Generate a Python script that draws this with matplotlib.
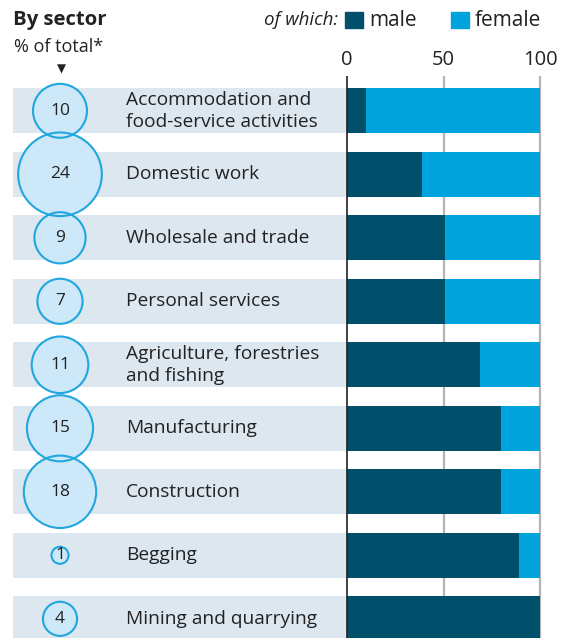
import numpy as np
import matplotlib.pyplot as plt

sectors = ["Accommodation and\nfood-service activities", "Domestic work",
           "Wholesale and trade", "Personal services",
           "Agriculture, forestries\nand fishing", "Manufacturing",
           "Construction", "Begging", "Mining and quarrying"]
share_of_total = [10, 24, 9, 7, 11, 15, 18, 1, 4]
male_pct = [10, 39, 51, 51, 69, 80, 80, 89, 100]
female_pct = [100 - m for m in male_pct]
ticks = [0, 50, 100]

DARK = "#00506b"
LIGHT = "#00a3dc"
BAND = "#dce7f0"
CIRCLE_FILL = "#cde8f8"
CIRCLE_EDGE = "#22a6de"
TEXT = "#222222"

plt.rcParams['font.family'] = ['Open Sans', 'DejaVu Sans']

W, H = 566, 638
fig = plt.figure(figsize=(W / 100, H / 100), dpi=100)
ax = fig.add_axes([0, 0, 1, 1])

# x: 0..100 maps to pixels 347..540; y: row i centred at 110.8 + 63.5*i
px_per_unit = 1.93
x0_px = 347
ax.set_xlim(-x0_px / px_per_unit, (W - x0_px) / px_per_unit)
row_px, row0_px = 63.5, 110.8
ax.set_ylim((H - row0_px) / row_px, -row0_px / row_px)
ax.axis("off")

y = np.arange(len(sectors))
band_h = 45 / row_px
band_left = -(x0_px - 13) / px_per_unit

# grid lines behind the bars
grid_top = (76 - row0_px) / row_px
grid_bot = (H - row0_px) / row_px
ax.vlines([50, 100], grid_top, grid_bot, color="#b5b5b5", lw=1.6, zorder=0)

# light bands behind the labels
ax.barh(y, -band_left, left=band_left, height=band_h, color=BAND, zorder=1)

# stacked male / female bars
ax.barh(y, male_pct, height=band_h, color=DARK, zorder=2)
ax.barh(y, female_pct, left=male_pct, height=band_h, color=LIGHT, zorder=2)
ax.vlines(0, grid_top, grid_bot, color="#222222", lw=1.2, zorder=3)

# circles sized by share of total: fills first, outlines on top
circle_x = -(x0_px - 60) / px_per_unit
sizes = np.array(share_of_total) * 151
ax.scatter([circle_x] * len(y), y, s=sizes, facecolor=CIRCLE_FILL,
           edgecolor="none", zorder=3)
ax.scatter([circle_x] * len(y), y, s=sizes, facecolor="none",
           edgecolor=CIRCLE_EDGE, linewidth=1.5, zorder=3.5)
for yi, v in zip(y, share_of_total):
    ax.text(circle_x, yi, str(v), ha="center", va="center", fontsize=12.5,
            color=TEXT, zorder=4)

label_x = -(x0_px - 126) / px_per_unit
for yi, name in zip(y, sectors):
    ax.text(label_x, yi, name, ha="left", va="center", fontsize=13.8,
            color=TEXT, linespacing=1.25, zorder=4)

# scale labels above the bars
tick_y = (60 - row0_px) / row_px
for t in ticks:
    ax.text(t, tick_y, str(t), ha="center", va="center", fontsize=14.5,
            color=TEXT)

# header
fig.text(13 / W, 1 - 20 / H, "By sector", ha="left", va="center",
         fontsize=14.6, fontweight="bold", color=TEXT)
fig.text(14 / W, 1 - 47 / H, "% of total*", ha="left", va="center",
         fontsize=13, color=TEXT)
fig.text(61 / W, 1 - 69 / H, "\u25BC", ha="center", va="center",
         fontsize=8.5, color=TEXT)
fig.text(338 / W, 1 - 20 / H, "of which:", ha="right", va="center",
         fontsize=13.5, style="italic", color=TEXT)
fig.patches.append(plt.Rectangle((345 / W, 1 - 28 / H), 18 / W, 16 / H,
                                 transform=fig.transFigure, color=DARK))
fig.text(369 / W, 1 - 20 / H, "male", ha="left", va="center",
         fontsize=15, color=TEXT)
fig.patches.append(plt.Rectangle((451 / W, 1 - 28 / H), 18 / W, 16 / H,
                                 transform=fig.transFigure, color=LIGHT))
fig.text(475 / W, 1 - 20 / H, "female", ha="left", va="center",
         fontsize=15, color=TEXT)

fig.savefig("out.png", dpi=100)
